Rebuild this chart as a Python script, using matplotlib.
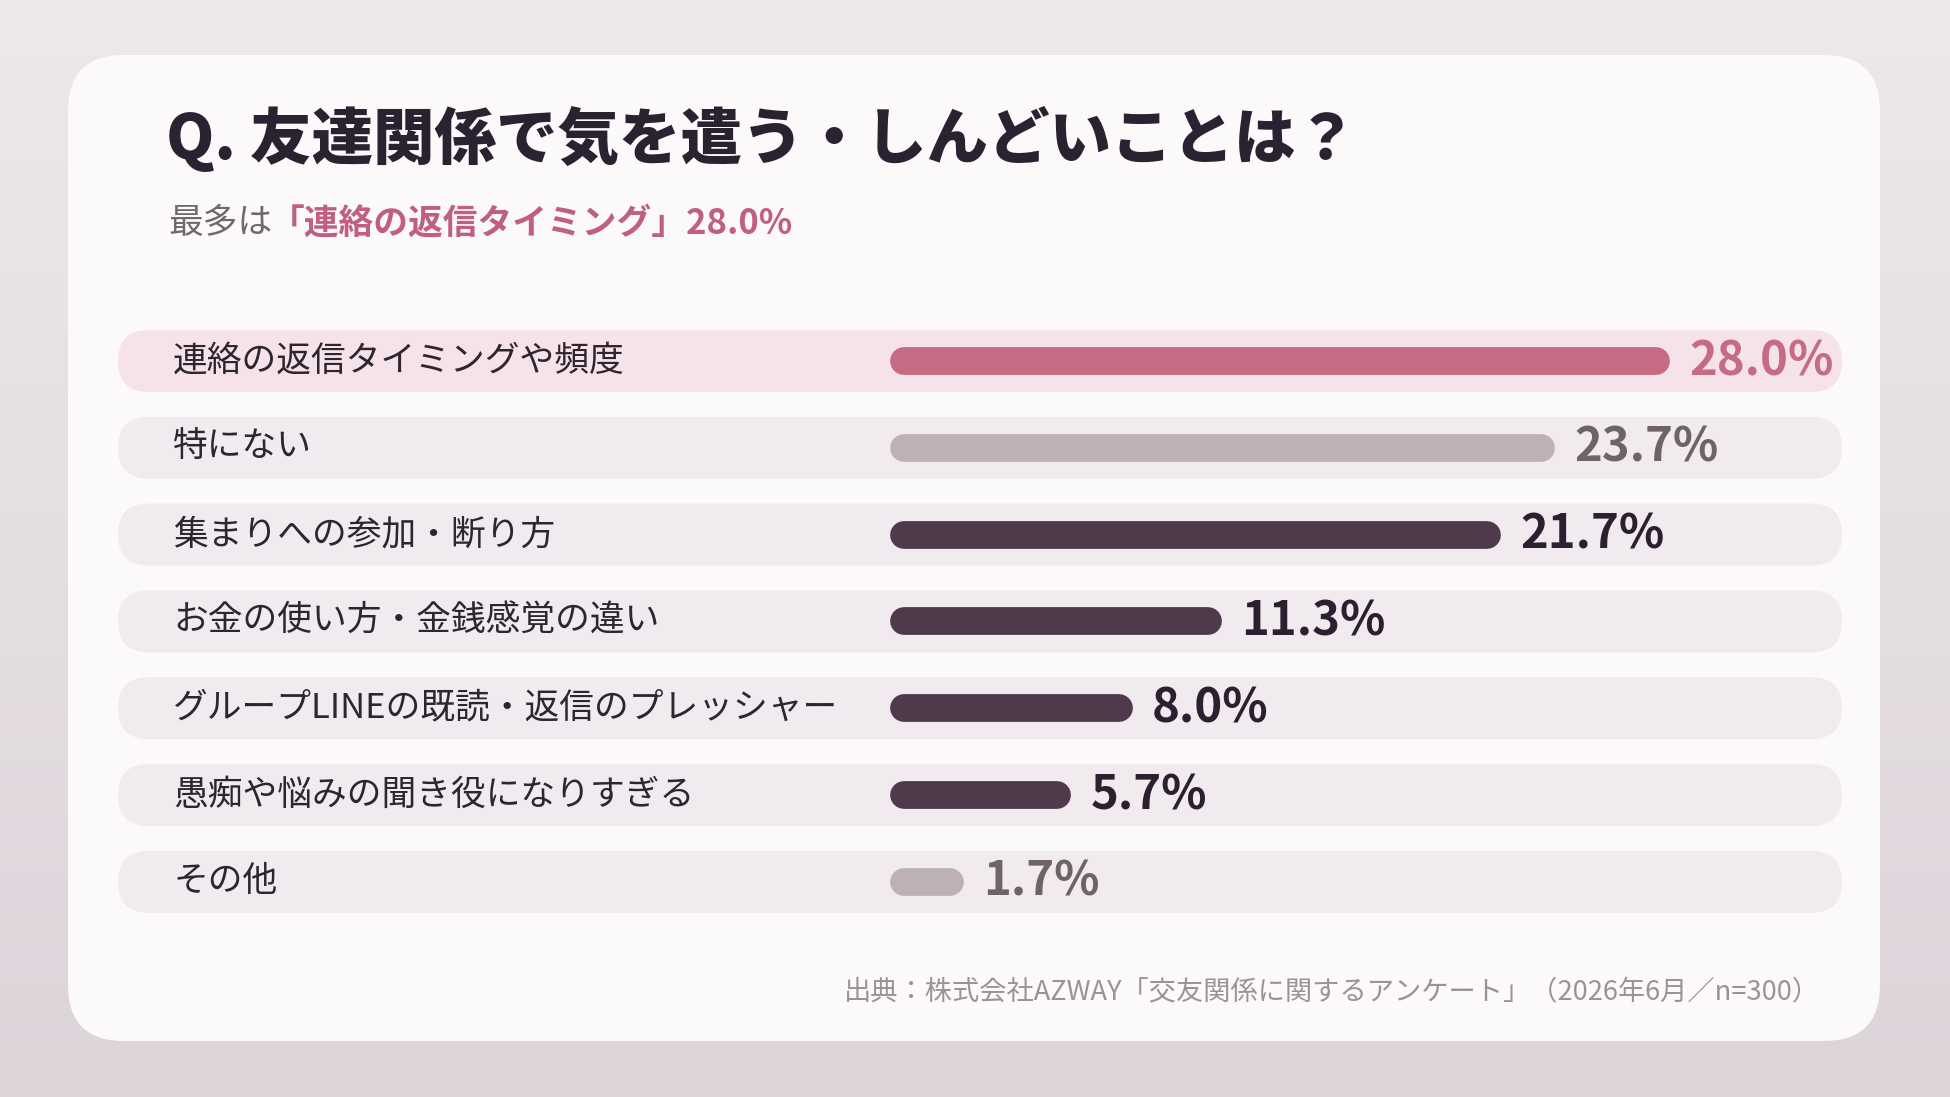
import numpy as np
import matplotlib
matplotlib.use('Agg')
import matplotlib.pyplot as plt
from matplotlib.patches import FancyBboxPatch
from matplotlib.colors import LinearSegmentedColormap

plt.rcParams['font.family'] = ['Noto Sans CJK JP', 'DejaVu Sans']

# data
labels = ['連絡の返信タイミングや頻度', '特にない', '集まりへの参加・断り方',
          'お金の使い方・金銭感覚の違い', 'グループLINEの既読・返信のプレッシャー',
          '愚痴や悩みの聞き役になりすぎる', 'その他']
values = [28.0, 23.7, 21.7, 11.3, 8.0, 5.7, 1.7]
kinds = ['top', 'other', 'main', 'main', 'main', 'main', 'other']

title = 'Q. 友達関係で気を遣う・しんどいことは？'
sub_lead = '最多は'
sub_hi = '「連絡の返信タイミング」28.0%'
source = '出典：株式会社AZWAY「交友関係に関するアンケート」（2026年6月／n=300）'

bar_col = {'top': '#c56b84', 'other': '#bdb1b7', 'main': '#4e3a4b'}
val_col = {'top': '#c56b84', 'other': '#6e6468', 'main': '#2a2030'}

W, H = 1950, 1097
fig = plt.figure(figsize=(W / 100, H / 100), dpi=100)

# background / card layer in pixel coords
bg = fig.add_axes([0, 0, 1, 1])
bg.set_xlim(0, W)
bg.set_ylim(H, 0)
bg.axis('off')
grad = np.linspace(0, 1, 256).reshape(-1, 1)
cm = LinearSegmentedColormap.from_list('bgc', ['#ece8eb', '#ddd4da'])
bg.imshow(grad, cmap=cm, extent=(0, W, H, 0), aspect='auto', zorder=0)

card = FancyBboxPatch((68, 55), 1812, 986, boxstyle='round,pad=0,rounding_size=56',
                      fc='#fbf9fa', ec='none', zorder=1)
bg.add_patch(card)

row_y0, row_dy = 361, 86.8
for i, k in enumerate(kinds):
    yc = row_y0 + i * row_dy
    pill = FancyBboxPatch((118, yc - 31), 1724, 62, boxstyle='round,pad=0,rounding_size=31',
                          fc='#f6e2e9' if k == 'top' else '#f1eaee', ec='none', zorder=2)
    bg.add_patch(pill)

bg.text(166, 139, title, fontsize=44.3, fontweight='heavy', color='#2a2230',
        va='center', ha='left', zorder=3)
bg.text(168, 223, sub_lead, fontsize=25, color='#6e6a6c', va='center', ha='left', zorder=3)
bg.text(270, 223, sub_hi, fontsize=25, fontweight='bold', color='#c0607e',
        va='center', ha='left', zorder=3)
bg.text(1820, 992, source, fontsize=19.6, color='#9a9396', va='center', ha='right', zorder=3)

# bar layer
x0_px, px_per = 904, 26.86
right_px = 1842
top_px = row_y0 - row_dy / 2
bot_px = row_y0 + 6 * row_dy + row_dy / 2
ax = fig.add_axes([x0_px / W, 1 - bot_px / H, (right_px - x0_px) / W, (bot_px - top_px) / H])
ax.set_xlim(0, (right_px - x0_px) / px_per)
ax.set_ylim(len(values) - 0.5, -0.5)
ax.axis('off')
ax.patch.set_alpha(0)

for i, (lab, v, k) in enumerate(zip(labels, values, kinds)):
    ax.plot([0, v], [i, i], color=bar_col[k], lw=20, solid_capstyle='round',
            zorder=3, clip_on=False)
    ax.annotate(f'{v:.1f}%', xy=(v, i), xytext=(24, 0), textcoords='offset points',
                fontsize=34, fontweight='bold', color=val_col[k],
                va='center', ha='left', annotation_clip=False)
    ax.text((173 - x0_px) / (right_px - x0_px), i, lab, transform=ax.get_yaxis_transform(),
            fontsize=25, color='#2d2530', va='center', ha='left')

fig.savefig('out.png', dpi=100)
